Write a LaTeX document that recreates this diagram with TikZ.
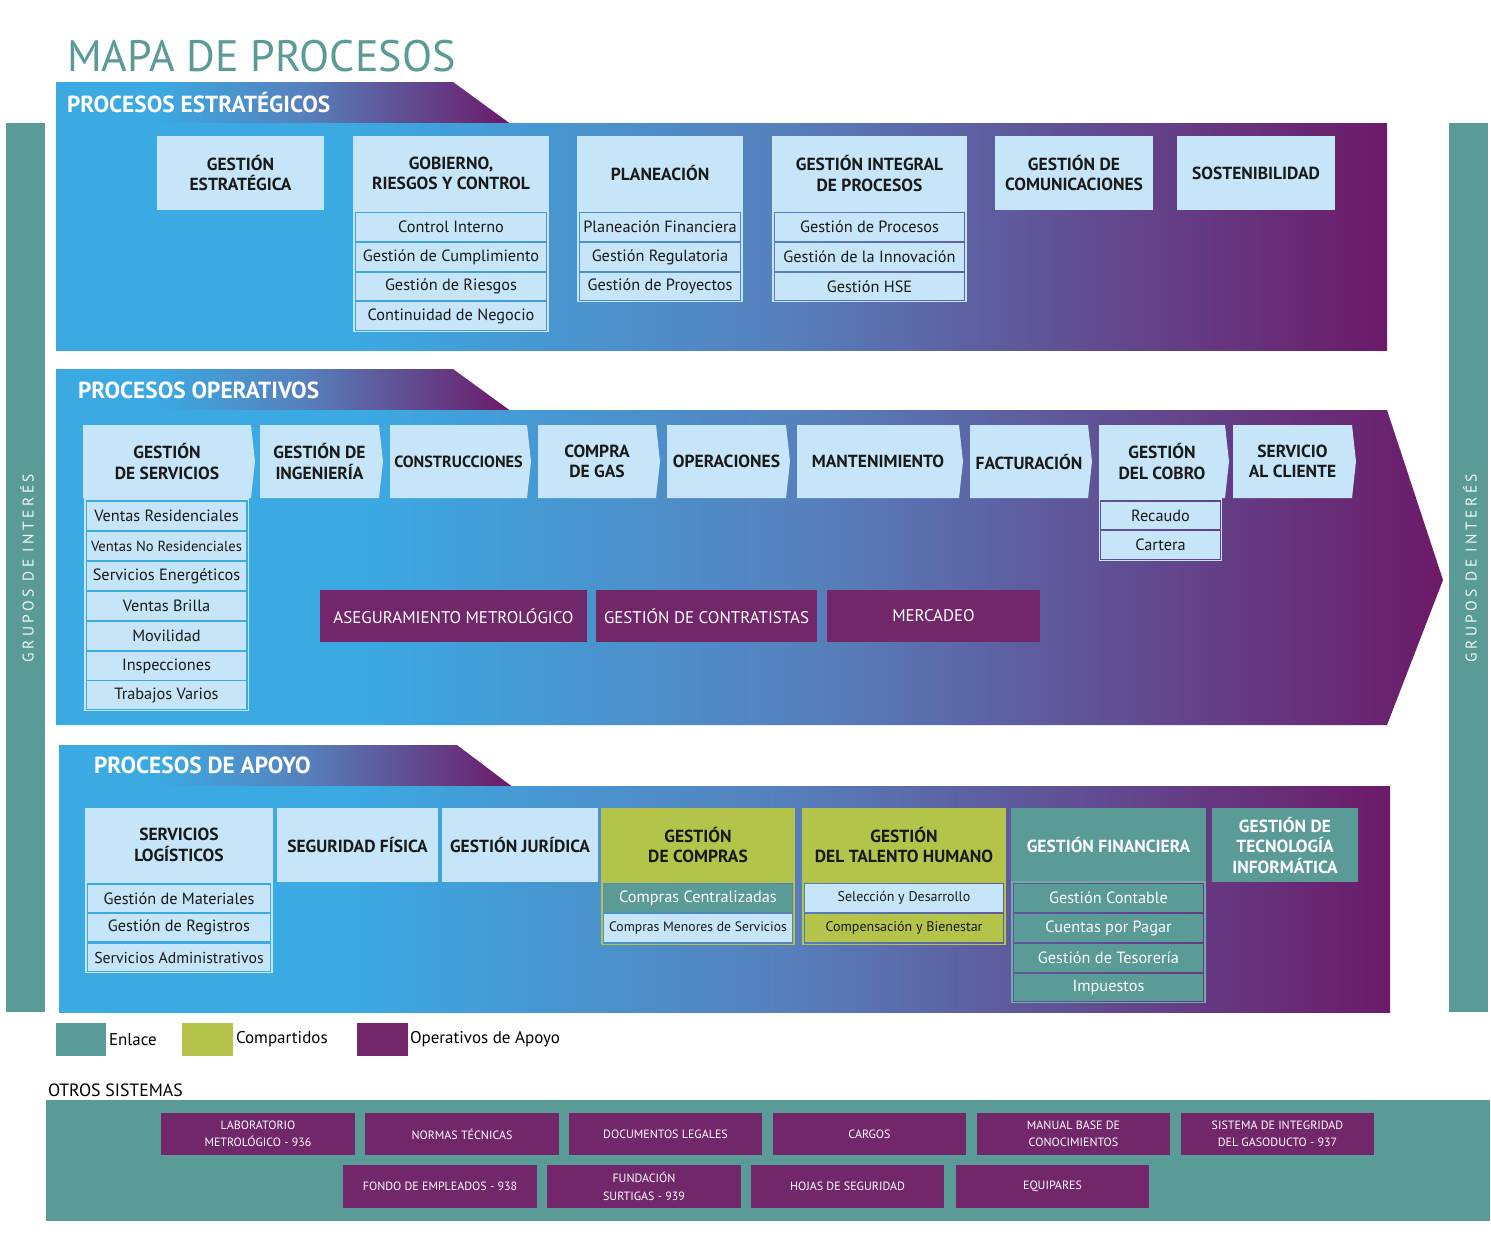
\documentclass[tikz,border=0pt]{standalone}
\usepackage{fontspec}
\setmainfont{PT Sans}
\newfontfamily\spacedfont[LetterSpace=22]{PT Sans}
\definecolor{cblue}{HTML}{3BA9E2}
\definecolor{cmid}{HTML}{5681BD}
\definecolor{cpurple}{HTML}{6C1A68}
\definecolor{lblue}{HTML}{C6E5F8}
\definecolor{teal}{HTML}{5A9B97}
\definecolor{olive}{HTML}{B4C34A}
\definecolor{purp}{HTML}{712769}
\pgfdeclarehorizontalshading{band}{100bp}{color(0bp)=(cblue); color(25bp)=(cblue); color(36bp)=(cblue); color(52bp)=(cmid); color(75bp)=(cpurple); color(100bp)=(cpurple)}
\newcommand\bx[6]{\node[#1,anchor=north west,minimum width={#4-#2},minimum height={#5-#3}] at (#2,#3) {#6};}
\newcommand\chev[5][]{\fill[lblue] (#3,425) -- (#4,425) -- ({#4+4},461.5) -- (#4,498) -- (#3,498) -- cycle;
  \node[hdrtext,name=#2,#1] at ({(#3+#4)/2},461.5) {#5};}
\begin{document}
\begin{tikzpicture}[x=1pt,y=-1pt,
  base/.style={inner sep=0pt,outer sep=0pt,align=center},
  hdrtext/.style={base,font=\bfseries\fontsize{17.5}{20.5}\selectfont,text=black!90},
  hdr/.style={hdrtext,fill=lblue},
  hdrw/.style={base,font=\bfseries\fontsize{17.5}{20.5}\selectfont,text=white,fill=teal},
  hdro/.style={hdrtext,fill=olive},
  sub/.style={base,fill=lblue,font=\fontsize{16.3}{18}\selectfont,text=black!90},
  subt/.style={base,fill=teal,font=\fontsize{16.3}{18}\selectfont,text=white},
  subo/.style={base,fill=olive,font=\fontsize{14}{18}\selectfont,text=black!90},
  cont/.style={line width=1.4pt},
  pbox/.style={base,fill=purp,font=\fontsize{16.9}{18}\selectfont,text=white},
  obox/.style={base,fill=purp,font=\fontsize{12}{17.5}\selectfont,text=white},
  tabtext/.style={base,anchor=west,font=\bfseries\fontsize{23.3}{25}\selectfont,text=white},
  legtext/.style={base,anchor=west,font=\fontsize{17}{19}\selectfont,text=black},
  side/.style={base,rotate=90,font=\spacedfont\fontsize{15.5}{17}\selectfont,text=white!92!teal}]
\useasboundingbox (0,0) rectangle (1491,1235);
\fill[white] (0,0) rectangle (1491,1235);

% title
\node[base,anchor=base west,font=\fontsize{44}{48}\selectfont,text=teal] (title) at (67,71) {MAPA DE PROCESOS};

% side bars
\fill[teal] (6,123) rectangle (45,1012);
\fill[teal] (1449,123) rectangle (1488,1012);
\node[side] (gl) at (27,568) {GRUPOS DE INTERÉS};
\node[side] (gr) at (1470,568) {GRUPOS DE INTERÉS};

% ===== ESTRATEGICOS =====
\shade[shading=band] (56,82) -- (453,82) -- (510,123.5) -- (56,123.5) -- cycle;
\shade[shading=band] (56,123) rectangle (1387,350);
\node[tabtext] (tE) at (67,103) {PROCESOS ESTRATÉGICOS};

\bx{hdr,name=s1}{157}{136}{324}{210}{GESTIÓN\\ESTRATÉGICA}
\bx{hdr,name=s2}{353}{136}{549}{211}{GOBIERNO,\\RIESGOS Y CONTROL}
\draw[cont,lblue] (354,211) rectangle (548,331.5);
\bx{sub,name=s2a}{356}{213}{546}{241}{Control Interno}
\bx{sub,name=s2b}{356}{243}{546}{271}{Gestión de Cumplimiento}
\bx{sub,name=s2c}{356}{273}{546}{300}{Gestión de Riesgos}
\bx{sub,name=s2d}{356}{302}{546}{330}{Continuidad de Negocio}

\bx{hdr,name=s3}{577}{136}{743}{211}{PLANEACIÓN}
\draw[cont,lblue] (578,211) rectangle (742,301.5);
\bx{sub,name=s3a}{580}{213}{740}{241}{Planeación Financiera}
\bx{sub,name=s3b}{580}{243}{740}{271}{Gestión Regulatoria}
\bx{sub,name=s3c}{580}{273}{740}{300}{Gestión de Proyectos}

\bx{hdr,name=s4}{772}{136}{967}{211}{GESTIÓN INTEGRAL\\DE PROCESOS}
\draw[cont,lblue] (773,211) rectangle (966,301.5);
\bx{sub,name=s4a}{775}{213}{964}{241}{Gestión de Procesos}
\bx{sub,name=s4b}{775}{243}{964}{271}{Gestión de la Innovación}
\bx{sub,name=s4c}{775}{273}{964}{300}{Gestión HSE}

\bx{hdr,name=s5}{995}{136}{1153}{210}{GESTIÓN DE\\COMUNICACIONES}
\bx{hdr,name=s6}{1177}{136}{1335}{210}{SOSTENIBILIDAD}

% ===== OPERATIVOS =====
\shade[shading=band] (56,369) -- (453,369) -- (510,410.5) -- (56,410.5) -- cycle;
\shade[shading=band] (56,410) -- (1387,410) -- (1443,580) -- (1387,725) -- (56,725) -- cycle;
\node[tabtext] (tO) at (78,390) {PROCESOS OPERATIVOS};

\chev{o1}{83}{251}{GESTIÓN\\DE SERVICIOS}
\chev{o2}{260}{379}{GESTIÓN DE\\INGENIERÍA}
\chev[font=\bfseries\fontsize{16.2}{20}\selectfont]{o3}{390}{527}{CONSTRUCCIONES}
\chev{o4}{538}{656}{COMPRA\\DE GAS}
\chev{o5}{667}{786}{OPERACIONES}
\chev{o6}{797}{959}{MANTENIMIENTO}
\chev{o7}{970}{1088}{FACTURACIÓN}
\chev{o8}{1099}{1225}{GESTIÓN\\DEL COBRO}
\chev{o9}{1233}{1352}{SERVICIO\\AL CLIENTE}

\draw[cont,lblue] (85,499) rectangle (248.5,710.5);
\bx{sub,name=o1a}{87}{502}{246}{530}{Ventas Residenciales}
\bx{sub,name=o1b,font=\fontsize{14.6}{18}\selectfont}{87}{532}{246}{560}{Ventas No Residenciales}
\bx{sub,name=o1c}{87}{562}{246}{590}{Servicios Energéticos}
\bx{sub,name=o1d}{87}{592}{246}{620}{Ventas Brilla}
\bx{sub,name=o1e}{87}{622}{246}{650}{Movilidad}
\bx{sub,name=o1f}{87}{652}{246}{680}{Inspecciones}
\bx{sub,name=o1g}{87}{681}{246}{709}{Trabajos Varios}

\draw[cont,lblue] (1099.5,499) rectangle (1221.5,560.5);
\bx{sub,name=o8a}{1101}{502}{1220}{529}{Recaudo}
\bx{sub,name=o8b}{1101}{531}{1220}{559}{Cartera}

\bx{pbox,name=p1}{320}{590}{587}{642}{ASEGURAMIENTO METROLÓGICO}
\bx{pbox,name=p2}{596}{590}{817}{642}{GESTIÓN DE CONTRATISTAS}
\bx{pbox,name=p3}{827}{590}{1040}{642}{MERCADEO}

% ===== APOYO =====
\shade[shading=band] (59,745) -- (457,745) -- (512,786.5) -- (59,786.5) -- cycle;
\shade[shading=band] (59,786) rectangle (1390,1012);
\node[tabtext] (tA) at (94,765) {PROCESOS DE APOYO};

\bx{hdr,name=a1}{85}{808}{273}{882}{SERVICIOS\\LOGÍSTICOS}
\draw[cont,lblue] (86,882) rectangle (272,972.5);
\bx{sub,name=a1a}{88}{885}{270}{912}{Gestión de Materiales}
\bx{sub,name=a1b}{88}{914}{270}{941}{Gestión de Registros}
\bx{sub,name=a1c,font=\fontsize{15.8}{18}\selectfont}{88}{944}{270}{971}{Servicios Administrativos}

\bx{hdr,name=a2}{277}{808}{438}{882}{SEGURIDAD FÍSICA}
\bx{hdr,name=a3}{442}{808}{598}{882}{GESTIÓN JURÍDICA}

\bx{hdro,name=a4}{601}{808}{795}{882}{GESTIÓN\\DE COMPRAS}
\draw[cont,olive] (602,882) rectangle (794,944.5);
\bx{subt,name=a4a}{604}{884}{792}{912}{Compras Centralizadas}
\bx{sub,name=a4b,font=\fontsize{13.7}{18}\selectfont}{604}{914}{792}{942}{Compras Menores de Servicios}

\bx{hdro,name=a5}{802}{808}{1006}{882}{GESTIÓN\\DEL TALENTO HUMANO}
\draw[cont,olive] (803,882) rectangle (1005,944.5);
\bx{sub,name=a5a,font=\fontsize{14}{18}\selectfont}{805}{884}{1003}{912}{Selección y Desarrollo}
\bx{subo,name=a5b}{805}{914}{1003}{942}{Compensación y Bienestar}

\bx{hdrw,name=a6}{1011}{808}{1206}{882}{GESTIÓN FINANCIERA}
\draw[cont,teal!85!white] (1012,882) rectangle (1205,1002.5);
\bx{subt,name=a6a}{1014}{884}{1203}{912}{Gestión Contable}
\bx{subt,name=a6b}{1014}{914}{1203}{942}{Cuentas por Pagar}
\bx{subt,name=a6c}{1014}{944}{1203}{972}{Gestión de Tesorería}
\bx{subt,name=a6d}{1014}{974}{1203}{1001}{Impuestos}

\bx{hdrw,name=a7}{1212}{808}{1358}{882}{GESTIÓN DE\\TECNOLOGÍA\\INFORMÁTICA}

% ===== LEYENDA =====
\fill[teal] (56,1023) rectangle (106,1056);
\node[legtext] (l1) at (109,1039.5) {Enlace};
\fill[olive] (182,1023) rectangle (233,1056);
\node[legtext] (l2) at (236,1039.5) {Compartidos};
\fill[purp] (357,1023) rectangle (408,1056);
\node[legtext] (l3) at (410,1039.5) {Operativos de Apoyo};

% ===== OTROS SISTEMAS =====
\node[legtext,font=\fontsize{17.8}{19}\selectfont] (otros) at (48,1090) {OTROS SISTEMAS};
\fill[teal] (46,1100) rectangle (1490,1221);
\bx{obox,name=b1}{161}{1113}{355}{1155}{LABORATORIO\\METROLÓGICO - 936}
\bx{obox,name=b2}{365}{1113}{559}{1155}{NORMAS TÉCNICAS}
\bx{obox,name=b3}{569}{1113}{762}{1155}{DOCUMENTOS LEGALES}
\bx{obox,name=b4}{773}{1113}{966}{1155}{CARGOS}
\bx{obox,name=b5}{977}{1113}{1170}{1155}{MANUAL BASE DE\\CONOCIMIENTOS}
\bx{obox,name=b6}{1181}{1113}{1374}{1155}{SISTEMA DE INTEGRIDAD\\DEL GASODUCTO - 937}
\bx{obox,name=b7}{343}{1165}{537}{1208}{FONDO DE EMPLEADOS - 938}
\bx{obox,name=b8}{547}{1165}{741}{1208}{FUNDACIÓN\\SURTIGAS - 939}
\bx{obox,name=b9}{751}{1165}{944}{1208}{HOJAS DE SEGURIDAD}
\bx{obox,name=b10}{956}{1165}{1149}{1208}{EQUIPARES}
\end{tikzpicture}
\end{document}
